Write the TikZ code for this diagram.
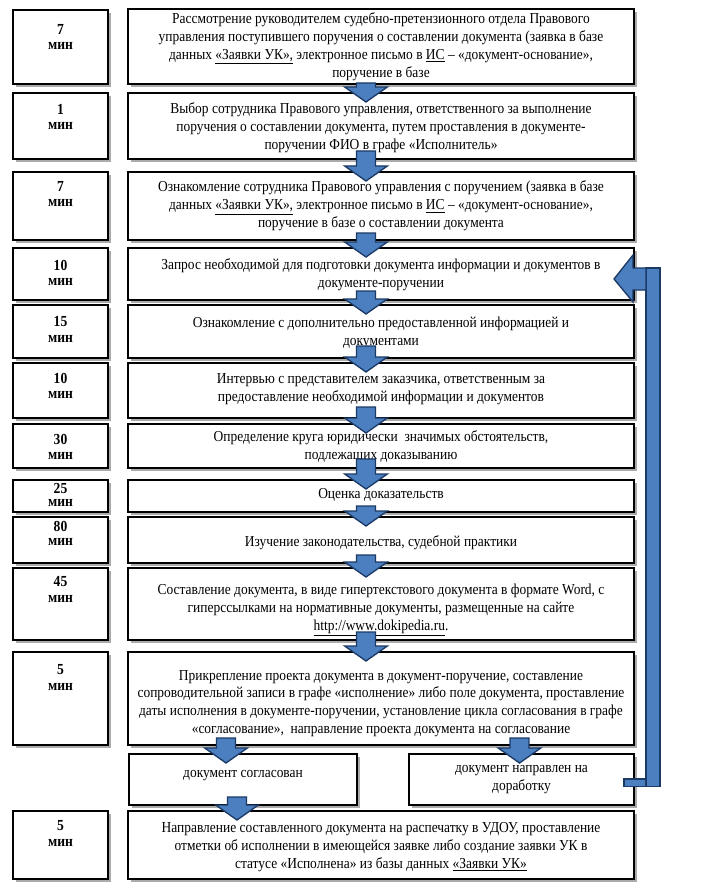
\documentclass[tikz,border=0pt]{standalone}
\usepackage{fontspec}
\setmainfont[FakeStretch=0.885]{Liberation Serif}
\usetikzlibrary{shadows,calc}
\definecolor{ablue}{HTML}{4C7FC0}
\definecolor{adark}{HTML}{1B3A66}
\newcommand\RB[7]{\node[rbox,minimum width={(#4-#2)*0.75pt},minimum height={(#5-#3)*0.75pt}] (#1) at ({(#2+#4)/2},{(#3+#5)/2}) {};
  \node[rtext] (#1t) at ($(#1.center)+(0,#7)$) {#6};}
\newcommand\LB[6]{\node[rbox,minimum width={95*0.75pt},minimum height={(#3-#2)*0.75pt}] (#1) at (60.5,{(#2+#3)/2}) {};
  \node[tm] (#1n) at ($(#1.north)+(0,#5)$) {#4};
  \node[tm] (#1m) at ($(#1.north)+(0,#5+#6)$) {мин};}
% upper node, lower node, x offset (px) from lower node, shaft start above upper bottom (px)
\newcommand\DArr[4]{\draw[barrow] let \p1=(#1.south), \p2=($(#2.north)+(#3,0)$) in
  (\x2-7.1pt,\y1+#4*0.75pt) -- (\x2+7.1pt,\y1+#4*0.75pt) -- (\x2+7.1pt,\y2+3.75pt) -- (\x2+16pt,\y2+3.75pt) -- (\x2,\y2-7.5pt) -- (\x2-16pt,\y2+3.75pt) -- (\x2-7.1pt,\y2+3.75pt) -- cycle;}
\begin{document}
\begin{tikzpicture}[x=0.75pt,y=-0.75pt,
  rbox/.style={draw=black, line width=1.5pt, fill=white, inner sep=0pt,
    drop shadow={shadow xshift=2.2pt, shadow yshift=-2.2pt, fill=black!55, opacity=0.6}},
  rtext/.style={font=\fontsize{11.4}{13.4}\selectfont, align=center, inner sep=0pt},
  tm/.style={font=\fontsize{11.5}{12}\selectfont\bfseries, inner sep=0pt},
  barrow/.style={fill=ablue, draw=adark, line width=1pt, line join=miter},
]
\fill[white] (0,0) rectangle (717,891);
\useasboundingbox (0,0) rectangle (717,891);

\RB{r1}{128}{9}{634}{84}{Рассмотрение руководителем судебно-претензионного отдела Правового\\ управления поступившего поручения о составлении документа (заявка в базе\\ данных \underline{«Заявки УК»,} электронное письмо в \underline{ИС} – «документ-основание»,\\ поручение в базе}{0}
\RB{r2}{128}{93}{634}{159}{Выбор сотрудника Правового управления, ответственного за выполнение\\ поручения о составлении документа, путем проставления в документе-\\ поручении ФИО в графе «Исполнитель»}{2}
\RB{r3}{128}{172}{634}{240}{Ознакомление сотрудника Правового управления с поручением (заявка в базе\\ данных \underline{«Заявки УК»,} электронное письмо в \underline{ИС} – «документ-основание»,\\ поручение в базе о составлении документа}{0}
\RB{r4}{128}{248}{634}{300}{Запрос необходимой для подготовки документа информации и документов в\\ документе-поручении}{1}
\RB{r5}{128}{305}{634}{358}{Ознакомление с дополнительно предоставленной информацией и\\ документами}{1}
\RB{r6}{128}{363}{634}{418}{Интервью с представителем заказчика, ответственным за\\ предоставление необходимой информации и документов}{-1}
\RB{r7}{128}{424}{634}{468}{Определение круга юридически\ \ значимых обстоятельств,\\ подлежащих доказыванию}{1}
\RB{r8}{128}{480}{634}{512}{Оценка доказательств}{-1}
\RB{r9}{128}{517}{634}{563}{Изучение законодательства, судебной практики}{3}
\RB{r10}{128}{568}{634}{640}{Составление документа, в виде гипертекстового документа в формате Word, с\\ гиперссылками на нормативные документы, размещенные на сайте\\ \underline{http://www.dokipedia.ru}.}{6}
\RB{r11}{128}{652}{634}{745}{Прикрепление проекта документа в документ-поручение, составление\\ сопроводительной записи в графе «исполнение» либо поле документа, проставление\\ даты исполнения в документе-поручении, установление цикла согласования в графе\\ «согласование»,\ \ направление проекта документа на согласование}{5}
\RB{r12a}{129}{754}{357}{805}{документ согласован}{-4}
\RB{r12b}{409}{754}{634}{805}{документ направлен на\\ доработку}{0}
\RB{r13}{128}{811}{634}{879}{Направление составленного документа на распечатку в УДОУ, проставление\\ отметки об исполнении в имеющейся заявке либо создание заявки УК в\\ статусе «Исполнена» из базы данных \underline{«Заявки УК»}}{2}

\LB{l1}{10}{84}{7}{20}{17}
\LB{l2}{93}{159}{1}{17}{17}
\LB{l3}{172}{240}{7}{15}{17}
\LB{l4}{248}{300}{10}{18}{17}
\LB{l5}{305}{358}{15}{18}{17}
\LB{l6}{363}{418}{10}{16}{17}
\LB{l7}{424}{468}{30}{16}{17}
\LB{l8}{480}{512}{25}{9}{15}
\LB{l9}{517}{563}{80}{10}{16}
\LB{l10}{568}{640}{45}{15}{17}
\LB{l11}{652}{745}{5}{19}{17}
\LB{l13}{811}{879}{5}{16}{17}

\DArr{r1}{r2}{-15}{2}
\DArr{r2}{r3}{-15}{9}
\DArr{r3}{r4}{-15}{8}
\DArr{r4}{r5}{-15}{10}
\DArr{r5}{r6}{-15}{13}
\DArr{r6}{r7}{-15}{12}
\DArr{r7}{r8}{-15}{10}
\DArr{r8}{r9}{-15}{7}
\DArr{r9}{r10}{-15}{9}
\DArr{r10}{r11}{-15}{9}
\DArr{r11}{r12a}{-17}{8}
\DArr{r11}{r12b}{-2}{8}
\DArr{r12a}{r13}{-144}{9}

% feedback arrow
\coordinate (fa) at (r4.east);
\coordinate (fb) at (r12b.east);
\draw[barrow] let \p1=(fa), \p2=(fb) in
  (\x1+8.25pt,\y1+4.5pt) rectangle (\x1+18.75pt,\y2-5.25pt);
\draw[barrow] let \p1=(fa), \p2=(fb) in
  (\x1+8.25pt,\y2+0.375pt) -- (\x1-8.25pt,\y2+0.375pt) -- (\x1-8.25pt,\y2-5.25pt) -- (\x1+8.25pt,\y2-5.25pt) -- cycle;
\draw[barrow] let \p1=(fa) in
  (\x1-15.75pt,\y1-3.75pt) -- (\x1-1.5pt,\y1+14.25pt) -- (\x1-1.5pt,\y1+4.5pt) -- (\x1+8.25pt,\y1+4.5pt) -- (\x1+8.25pt,\y1-12pt) -- (\x1-1.5pt,\y1-12pt) -- (\x1-1.5pt,\y1-21pt) -- cycle;
\end{tikzpicture}
\end{document}
